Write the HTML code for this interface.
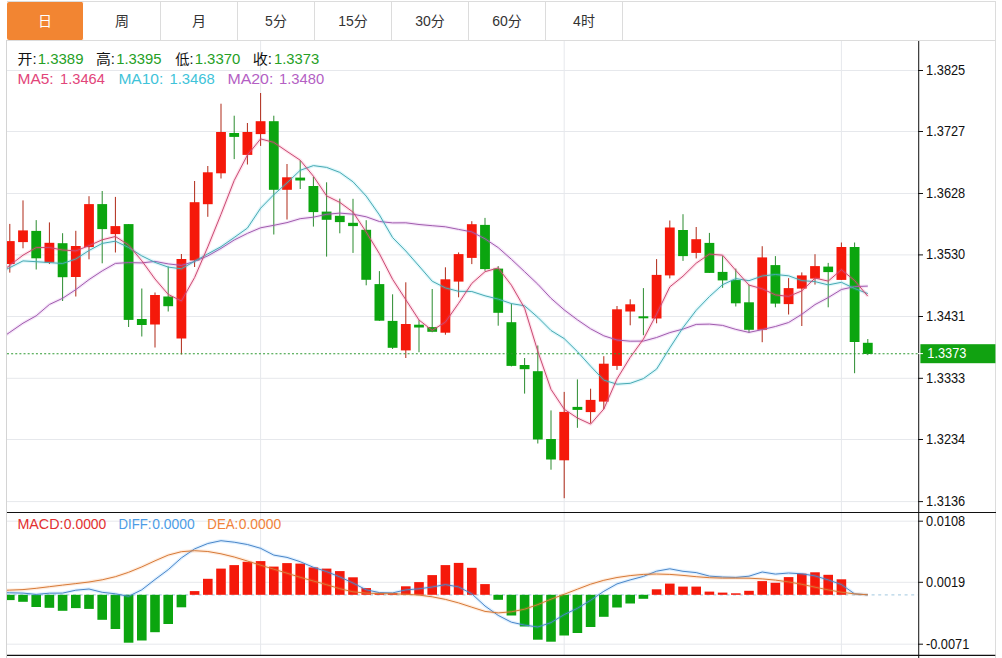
<!DOCTYPE html>
<html lang="zh-CN"><head><meta charset="utf-8"><title>K线图</title>
<style>
html,body{margin:0;padding:0;background:#fff;}
body{width:1002px;height:658px;position:relative;overflow:hidden;font-family:"Liberation Sans","Noto Sans CJK SC",sans-serif;}
.tabs{position:absolute;left:7px;top:1px;width:988px;height:38px;border-top:1px solid #dcdcdc;border-bottom:1px solid #dcdcdc;}
.tab{position:absolute;top:2px;width:76px;height:38px;line-height:38px;text-align:center;font-size:14px;color:#333;border-right:1px solid #dcdcdc;box-sizing:content-box;}
.tab.on{background:#f28532;color:#fff;border-right-color:#fff;border-radius:2px;}
.ax{font-family:"Liberation Sans",sans-serif;font-size:14px;fill:#111;}
</style></head><body>
<div class="tabs"></div>
<div class="tab on" style="left:7px">日</div><div class="tab" style="left:84px">周</div><div class="tab" style="left:161px">月</div><div class="tab" style="left:238px">5分</div><div class="tab" style="left:315px">15分</div><div class="tab" style="left:392px">30分</div><div class="tab" style="left:469px">60分</div><div class="tab" style="left:546px">4时</div>
<svg width="1002" height="658" viewBox="0 0 1002 658" style="position:absolute;left:0;top:0"><defs><clipPath id="cm"><rect x="7" y="41" width="911" height="471"/></clipPath><clipPath id="cd"><rect x="7" y="513" width="911" height="142"/></clipPath></defs><line x1="7" x2="918" y1="70.5" y2="70.5" stroke="#e6e8ec" stroke-width="1"/><line x1="7" x2="918" y1="131.5" y2="131.5" stroke="#e6e8ec" stroke-width="1"/><line x1="7" x2="918" y1="193.5" y2="193.5" stroke="#e6e8ec" stroke-width="1"/><line x1="7" x2="918" y1="254.9" y2="254.9" stroke="#e6e8ec" stroke-width="1"/><line x1="7" x2="918" y1="316.5" y2="316.5" stroke="#e6e8ec" stroke-width="1"/><line x1="7" x2="918" y1="378.3" y2="378.3" stroke="#e6e8ec" stroke-width="1"/><line x1="7" x2="918" y1="439.5" y2="439.5" stroke="#e6e8ec" stroke-width="1"/><line x1="7" x2="918" y1="501.6" y2="501.6" stroke="#e6e8ec" stroke-width="1"/><line x1="7" x2="918" y1="521.2" y2="521.2" stroke="#e6e8ec" stroke-width="1"/><line x1="7" x2="918" y1="582.3" y2="582.3" stroke="#e6e8ec" stroke-width="1"/><line x1="7" x2="918" y1="644.2" y2="644.2" stroke="#e6e8ec" stroke-width="1"/><line x1="260.6" x2="260.6" y1="41" y2="655" stroke="#e6e8ec" stroke-width="1"/><line x1="564.2" x2="564.2" y1="41" y2="655" stroke="#e6e8ec" stroke-width="1"/><line x1="841.4" x2="841.4" y1="41" y2="655" stroke="#e6e8ec" stroke-width="1"/><line x1="6.5" x2="6.5" y1="40" y2="658" stroke="#d4d4d4" stroke-width="1"/><line x1="995.5" x2="995.5" y1="1" y2="658" stroke="#dcdcdc" stroke-width="1"/><g clip-path="url(#cm)"><rect x="9.3" y="223.9" width="1" height="48.7" fill="#b02a18"/><rect x="4.9" y="241.1" width="9.8" height="22.9" fill="#f5190a"/><rect x="22.5" y="200.4" width="1" height="47.9" fill="#b02a18"/><rect x="18.1" y="230.4" width="9.8" height="11.7" fill="#f5190a"/><rect x="35.7" y="220.1" width="1" height="49.4" fill="#2c8c30"/><rect x="31.3" y="230.9" width="9.8" height="27.4" fill="#0ba50f"/><rect x="48.9" y="222.4" width="1" height="41.6" fill="#b02a18"/><rect x="44.5" y="242.8" width="9.8" height="19.7" fill="#f5190a"/><rect x="62.1" y="233.2" width="1" height="67.8" fill="#2c8c30"/><rect x="57.7" y="243.2" width="9.8" height="34.0" fill="#0ba50f"/><rect x="75.3" y="230.8" width="1" height="65.7" fill="#b02a18"/><rect x="70.9" y="246.0" width="9.8" height="31.0" fill="#f5190a"/><rect x="88.5" y="196.2" width="1" height="63.1" fill="#b02a18"/><rect x="84.1" y="204.1" width="9.8" height="43.0" fill="#f5190a"/><rect x="101.7" y="191.0" width="1" height="72.3" fill="#2c8c30"/><rect x="97.3" y="204.1" width="9.8" height="25.0" fill="#0ba50f"/><rect x="114.9" y="196.9" width="1" height="55.6" fill="#b02a18"/><rect x="110.5" y="226.1" width="9.8" height="8.0" fill="#f5190a"/><rect x="128.1" y="224.1" width="1" height="102.9" fill="#2c8c30"/><rect x="123.7" y="224.1" width="9.8" height="95.8" fill="#0ba50f"/><rect x="141.3" y="288.5" width="1" height="48.0" fill="#2c8c30"/><rect x="136.9" y="319.0" width="9.8" height="6.0" fill="#0ba50f"/><rect x="154.5" y="292.5" width="1" height="55.0" fill="#b02a18"/><rect x="150.1" y="295.0" width="9.8" height="29.5" fill="#f5190a"/><rect x="167.7" y="266.5" width="1" height="45.0" fill="#2c8c30"/><rect x="163.3" y="296.5" width="9.8" height="9.7" fill="#0ba50f"/><rect x="180.9" y="254.0" width="1" height="100.5" fill="#b02a18"/><rect x="176.5" y="259.0" width="9.8" height="79.5" fill="#f5190a"/><rect x="194.1" y="181.0" width="1" height="86.0" fill="#b02a18"/><rect x="189.7" y="202.2" width="9.8" height="58.3" fill="#f5190a"/><rect x="207.3" y="166.0" width="1" height="50.8" fill="#b02a18"/><rect x="202.9" y="172.3" width="9.8" height="31.9" fill="#f5190a"/><rect x="220.5" y="103.7" width="1" height="74.8" fill="#b02a18"/><rect x="216.1" y="132.0" width="9.8" height="41.3" fill="#f5190a"/><rect x="233.7" y="115.7" width="1" height="43.4" fill="#2c8c30"/><rect x="229.3" y="133.0" width="9.8" height="3.9" fill="#0ba50f"/><rect x="246.9" y="123.0" width="1" height="41.5" fill="#b02a18"/><rect x="242.5" y="132.0" width="9.8" height="22.9" fill="#f5190a"/><rect x="260.1" y="93.0" width="1" height="52.9" fill="#b02a18"/><rect x="255.7" y="121.2" width="9.8" height="12.9" fill="#f5190a"/><rect x="273.3" y="115.7" width="1" height="118.8" fill="#2c8c30"/><rect x="268.9" y="121.2" width="9.8" height="68.6" fill="#0ba50f"/><rect x="286.5" y="164.0" width="1" height="55.5" fill="#b02a18"/><rect x="282.1" y="177.3" width="9.8" height="12.5" fill="#f5190a"/><rect x="299.7" y="160.3" width="1" height="28.7" fill="#2c8c30"/><rect x="295.3" y="177.6" width="9.8" height="2.9" fill="#0ba50f"/><rect x="312.9" y="176.8" width="1" height="49.8" fill="#2c8c30"/><rect x="308.5" y="186.0" width="9.8" height="26.1" fill="#0ba50f"/><rect x="326.1" y="182.3" width="1" height="74.3" fill="#2c8c30"/><rect x="321.7" y="211.6" width="9.8" height="8.2" fill="#0ba50f"/><rect x="339.3" y="198.6" width="1" height="34.7" fill="#2c8c30"/><rect x="334.9" y="215.8" width="9.8" height="6.3" fill="#0ba50f"/><rect x="352.5" y="198.8" width="1" height="54.1" fill="#2c8c30"/><rect x="348.1" y="222.8" width="9.8" height="3.3" fill="#0ba50f"/><rect x="365.7" y="220.2" width="1" height="65.1" fill="#2c8c30"/><rect x="361.3" y="229.8" width="9.8" height="50.0" fill="#0ba50f"/><rect x="378.9" y="271.1" width="1" height="49.8" fill="#2c8c30"/><rect x="374.5" y="284.1" width="9.8" height="36.6" fill="#0ba50f"/><rect x="392.1" y="294.3" width="1" height="54.7" fill="#2c8c30"/><rect x="387.7" y="320.9" width="9.8" height="26.9" fill="#0ba50f"/><rect x="405.3" y="282.3" width="1" height="75.7" fill="#b02a18"/><rect x="400.9" y="324.0" width="9.8" height="26.4" fill="#f5190a"/><rect x="418.5" y="320.2" width="1" height="32.0" fill="#2c8c30"/><rect x="414.1" y="324.7" width="9.8" height="2.8" fill="#0ba50f"/><rect x="431.7" y="289.0" width="1" height="43.2" fill="#2c8c30"/><rect x="427.3" y="327.1" width="9.8" height="4.7" fill="#0ba50f"/><rect x="444.9" y="267.3" width="1" height="67.4" fill="#b02a18"/><rect x="440.5" y="279.3" width="9.8" height="53.4" fill="#f5190a"/><rect x="458.1" y="252.4" width="1" height="44.9" fill="#b02a18"/><rect x="453.7" y="254.1" width="9.8" height="27.5" fill="#f5190a"/><rect x="471.3" y="221.2" width="1" height="42.9" fill="#b02a18"/><rect x="466.9" y="224.2" width="9.8" height="33.7" fill="#f5190a"/><rect x="484.5" y="217.9" width="1" height="52.9" fill="#2c8c30"/><rect x="480.1" y="224.9" width="9.8" height="44.2" fill="#0ba50f"/><rect x="497.7" y="266.1" width="1" height="59.6" fill="#2c8c30"/><rect x="493.3" y="268.6" width="9.8" height="44.2" fill="#0ba50f"/><rect x="510.9" y="303.5" width="1" height="62.9" fill="#2c8c30"/><rect x="506.5" y="322.2" width="9.8" height="43.7" fill="#0ba50f"/><rect x="524.1" y="358.0" width="1" height="35.6" fill="#2c8c30"/><rect x="519.7" y="365.0" width="9.8" height="4.2" fill="#0ba50f"/><rect x="537.3" y="345.5" width="1" height="98.0" fill="#2c8c30"/><rect x="532.9" y="371.2" width="9.8" height="68.3" fill="#0ba50f"/><rect x="550.5" y="410.4" width="1" height="59.3" fill="#2c8c30"/><rect x="546.1" y="439.0" width="9.8" height="20.5" fill="#0ba50f"/><rect x="563.7" y="391.9" width="1" height="106.3" fill="#b02a18"/><rect x="559.3" y="411.9" width="9.8" height="48.4" fill="#f5190a"/><rect x="576.9" y="379.4" width="1" height="48.4" fill="#2c8c30"/><rect x="572.5" y="406.9" width="9.8" height="3.0" fill="#0ba50f"/><rect x="590.1" y="388.7" width="1" height="34.6" fill="#b02a18"/><rect x="585.7" y="399.9" width="9.8" height="12.2" fill="#f5190a"/><rect x="603.3" y="356.2" width="1" height="52.9" fill="#b02a18"/><rect x="598.9" y="363.7" width="9.8" height="37.9" fill="#f5190a"/><rect x="616.5" y="306.0" width="1" height="63.9" fill="#b02a18"/><rect x="612.1" y="309.3" width="9.8" height="56.6" fill="#f5190a"/><rect x="629.7" y="299.3" width="1" height="26.0" fill="#b02a18"/><rect x="625.3" y="304.3" width="9.8" height="7.2" fill="#f5190a"/><rect x="642.9" y="288.1" width="1" height="47.1" fill="#2c8c30"/><rect x="638.5" y="316.3" width="9.8" height="2.0" fill="#0ba50f"/><rect x="656.1" y="259.1" width="1" height="64.2" fill="#b02a18"/><rect x="651.7" y="274.9" width="9.8" height="43.6" fill="#f5190a"/><rect x="669.3" y="220.5" width="1" height="57.9" fill="#b02a18"/><rect x="664.9" y="227.5" width="9.8" height="47.9" fill="#f5190a"/><rect x="682.5" y="214.2" width="1" height="46.7" fill="#2c8c30"/><rect x="678.1" y="230.0" width="9.8" height="26.1" fill="#0ba50f"/><rect x="695.7" y="227.0" width="1" height="31.4" fill="#b02a18"/><rect x="691.3" y="239.2" width="9.8" height="13.7" fill="#f5190a"/><rect x="708.9" y="232.9" width="1" height="40.0" fill="#2c8c30"/><rect x="704.5" y="242.9" width="9.8" height="30.0" fill="#0ba50f"/><rect x="722.1" y="256.1" width="1" height="31.7" fill="#2c8c30"/><rect x="717.7" y="271.9" width="9.8" height="8.5" fill="#0ba50f"/><rect x="735.3" y="268.6" width="1" height="37.9" fill="#2c8c30"/><rect x="730.9" y="279.9" width="9.8" height="23.4" fill="#0ba50f"/><rect x="748.5" y="284.8" width="1" height="47.9" fill="#2c8c30"/><rect x="744.1" y="302.3" width="9.8" height="27.5" fill="#0ba50f"/><rect x="761.7" y="246.2" width="1" height="96.0" fill="#b02a18"/><rect x="757.3" y="257.4" width="9.8" height="72.4" fill="#f5190a"/><rect x="774.9" y="256.1" width="1" height="51.2" fill="#2c8c30"/><rect x="770.5" y="265.1" width="9.8" height="38.5" fill="#0ba50f"/><rect x="788.1" y="278.1" width="1" height="36.4" fill="#b02a18"/><rect x="783.7" y="288.1" width="9.8" height="16.0" fill="#f5190a"/><rect x="801.3" y="272.4" width="1" height="53.6" fill="#b02a18"/><rect x="796.9" y="275.4" width="9.8" height="13.2" fill="#f5190a"/><rect x="814.5" y="254.2" width="1" height="30.4" fill="#b02a18"/><rect x="810.1" y="266.1" width="9.8" height="12.5" fill="#f5190a"/><rect x="827.7" y="262.9" width="1" height="44.4" fill="#2c8c30"/><rect x="823.3" y="266.6" width="9.8" height="5.5" fill="#0ba50f"/><rect x="840.9" y="242.5" width="1" height="37.4" fill="#b02a18"/><rect x="836.5" y="247.0" width="9.8" height="32.9" fill="#f5190a"/><rect x="854.1" y="242.5" width="1" height="130.7" fill="#2c8c30"/><rect x="849.7" y="247.0" width="9.8" height="95.0" fill="#0ba50f"/><rect x="867.3" y="339.0" width="1" height="16.1" fill="#2c8c30"/><rect x="862.9" y="342.8" width="9.8" height="11.2" fill="#0ba50f"/><polyline fill="none" stroke="#c060d8" stroke-opacity="0.16" stroke-width="3.4" stroke-linejoin="round" points="-3.4,341.4 9.8,332.3 23.0,323.2 36.2,315.8 49.4,304.5 62.6,298.3 75.8,289.6 89.0,279.6 102.2,270.9 115.4,263.4 128.6,262.6 141.8,262.9 155.0,261.4 168.2,263.9 181.4,265.4 194.6,261.4 207.8,255.9 221.0,248.4 234.2,240.0 247.4,233.4 260.6,227.8 273.8,225.3 287.0,222.6 300.2,218.7 313.4,217.2 326.6,214.3 339.8,213.1 353.0,214.2 366.2,216.8 379.4,221.5 392.6,222.9 405.8,222.8 419.0,224.5 432.2,225.7 445.4,226.8 458.6,229.4 471.8,231.9 485.0,238.8 498.2,247.6 511.4,259.3 524.6,271.7 537.8,284.2 551.0,298.3 564.2,309.9 577.4,319.8 590.6,328.8 603.8,335.8 617.0,340.0 630.2,341.2 643.4,341.1 656.6,337.5 669.8,332.6 683.0,329.1 696.2,324.4 709.4,324.1 722.6,325.4 735.8,329.4 749.0,332.4 762.2,329.6 775.4,326.5 788.6,322.5 801.8,314.3 815.0,304.6 828.2,297.6 841.4,289.5 854.6,286.6 867.8,286.1"/><polyline fill="none" stroke="#a05cad" stroke-width="1.0" stroke-linejoin="round" points="-3.4,341.4 9.8,332.3 23.0,323.2 36.2,315.8 49.4,304.5 62.6,298.3 75.8,289.6 89.0,279.6 102.2,270.9 115.4,263.4 128.6,262.6 141.8,262.9 155.0,261.4 168.2,263.9 181.4,265.4 194.6,261.4 207.8,255.9 221.0,248.4 234.2,240.0 247.4,233.4 260.6,227.8 273.8,225.3 287.0,222.6 300.2,218.7 313.4,217.2 326.6,214.3 339.8,213.1 353.0,214.2 366.2,216.8 379.4,221.5 392.6,222.9 405.8,222.8 419.0,224.5 432.2,225.7 445.4,226.8 458.6,229.4 471.8,231.9 485.0,238.8 498.2,247.6 511.4,259.3 524.6,271.7 537.8,284.2 551.0,298.3 564.2,309.9 577.4,319.8 590.6,328.8 603.8,335.8 617.0,340.0 630.2,341.2 643.4,341.1 656.6,337.5 669.8,332.6 683.0,329.1 696.2,324.4 709.4,324.1 722.6,325.4 735.8,329.4 749.0,332.4 762.2,329.6 775.4,326.5 788.6,322.5 801.8,314.3 815.0,304.6 828.2,297.6 841.4,289.5 854.6,286.6 867.8,286.1"/><polyline fill="none" stroke="#30d0e8" stroke-opacity="0.16" stroke-width="3.4" stroke-linejoin="round" points="-3.4,274.3 9.8,267.6 23.0,260.9 36.2,261.7 49.4,262.6 62.6,263.5 75.8,259.0 89.0,250.5 102.2,243.4 115.4,241.2 128.6,247.5 141.8,255.9 155.0,262.4 168.2,267.1 181.4,268.8 194.6,261.3 207.8,253.9 221.0,246.7 234.2,237.5 247.4,228.1 260.6,208.2 273.8,194.7 287.0,182.9 300.2,170.3 313.4,165.6 326.6,167.4 339.8,172.4 353.0,181.8 366.2,196.1 379.4,214.9 392.6,237.6 405.8,251.0 419.0,266.0 432.2,281.2 445.4,287.9 458.6,291.3 471.8,291.5 485.0,295.8 498.2,299.1 511.4,303.6 524.6,305.8 537.8,317.3 551.0,330.5 564.2,338.6 577.4,351.6 590.6,366.2 603.8,380.1 617.0,384.2 630.2,383.3 643.4,378.6 656.6,369.1 669.8,347.9 683.0,327.6 696.2,310.3 709.4,296.6 722.6,284.7 735.8,278.6 749.0,280.7 762.2,276.0 775.4,274.5 788.6,275.8 801.8,280.6 815.0,281.6 828.2,284.9 841.4,282.3 854.6,288.5 867.8,293.6"/><polyline fill="none" stroke="#48a9b2" stroke-width="1.0" stroke-linejoin="round" points="-3.4,274.3 9.8,267.6 23.0,260.9 36.2,261.7 49.4,262.6 62.6,263.5 75.8,259.0 89.0,250.5 102.2,243.4 115.4,241.2 128.6,247.5 141.8,255.9 155.0,262.4 168.2,267.1 181.4,268.8 194.6,261.3 207.8,253.9 221.0,246.7 234.2,237.5 247.4,228.1 260.6,208.2 273.8,194.7 287.0,182.9 300.2,170.3 313.4,165.6 326.6,167.4 339.8,172.4 353.0,181.8 366.2,196.1 379.4,214.9 392.6,237.6 405.8,251.0 419.0,266.0 432.2,281.2 445.4,287.9 458.6,291.3 471.8,291.5 485.0,295.8 498.2,299.1 511.4,303.6 524.6,305.8 537.8,317.3 551.0,330.5 564.2,338.6 577.4,351.6 590.6,366.2 603.8,380.1 617.0,384.2 630.2,383.3 643.4,378.6 656.6,369.1 669.8,347.9 683.0,327.6 696.2,310.3 709.4,296.6 722.6,284.7 735.8,278.6 749.0,280.7 762.2,276.0 775.4,274.5 788.6,275.8 801.8,280.6 815.0,281.6 828.2,284.9 841.4,282.3 854.6,288.5 867.8,293.6"/><polyline fill="none" stroke="#ff4a8a" stroke-opacity="0.16" stroke-width="3.4" stroke-linejoin="round" points="-3.4,275.4 9.8,265.3 23.0,255.2 36.2,247.6 49.4,247.5 62.6,250.0 75.8,250.9 89.0,245.7 102.2,239.8 115.4,236.5 128.6,245.0 141.8,260.8 155.0,279.0 168.2,294.4 181.4,301.0 194.6,277.5 207.8,246.9 221.0,214.3 234.2,180.5 247.4,155.1 260.6,138.9 273.8,142.4 287.0,151.4 300.2,160.2 313.4,176.2 326.6,195.9 339.8,202.4 353.0,212.1 366.2,232.0 379.4,253.7 392.6,279.3 405.8,299.7 419.0,320.0 432.2,330.4 445.4,322.1 458.6,303.3 471.8,283.4 485.0,271.7 498.2,267.9 511.4,285.2 524.6,308.2 537.8,351.3 551.0,389.4 564.2,409.2 577.4,418.0 590.6,424.1 603.8,409.0 617.0,378.9 630.2,357.4 643.4,339.1 656.6,314.1 669.8,286.9 683.0,276.2 696.2,263.2 709.4,254.1 722.6,255.2 735.8,270.4 749.0,285.1 762.2,288.8 775.4,294.9 788.6,296.4 801.8,290.9 815.0,278.1 828.2,281.1 841.4,269.7 854.6,280.5 867.8,296.2"/><polyline fill="none" stroke="#c84a72" stroke-width="1.0" stroke-linejoin="round" points="-3.4,275.4 9.8,265.3 23.0,255.2 36.2,247.6 49.4,247.5 62.6,250.0 75.8,250.9 89.0,245.7 102.2,239.8 115.4,236.5 128.6,245.0 141.8,260.8 155.0,279.0 168.2,294.4 181.4,301.0 194.6,277.5 207.8,246.9 221.0,214.3 234.2,180.5 247.4,155.1 260.6,138.9 273.8,142.4 287.0,151.4 300.2,160.2 313.4,176.2 326.6,195.9 339.8,202.4 353.0,212.1 366.2,232.0 379.4,253.7 392.6,279.3 405.8,299.7 419.0,320.0 432.2,330.4 445.4,322.1 458.6,303.3 471.8,283.4 485.0,271.7 498.2,267.9 511.4,285.2 524.6,308.2 537.8,351.3 551.0,389.4 564.2,409.2 577.4,418.0 590.6,424.1 603.8,409.0 617.0,378.9 630.2,357.4 643.4,339.1 656.6,314.1 669.8,286.9 683.0,276.2 696.2,263.2 709.4,254.1 722.6,255.2 735.8,270.4 749.0,285.1 762.2,288.8 775.4,294.9 788.6,296.4 801.8,290.9 815.0,278.1 828.2,281.1 841.4,269.7 854.6,280.5 867.8,296.2"/></g><line x1="7" x2="918" y1="353.8" y2="353.8" stroke="#2f9a33" stroke-width="1.1" stroke-dasharray="2,2.13"/><g clip-path="url(#cd)"><line x1="7" x2="918" y1="594.8" y2="594.8" stroke="#b4d3e6" stroke-width="1.2" stroke-dasharray="3,3.6"/><rect x="5.0" y="594.8" width="9.6" height="5.3" fill="#0ba50f"/><rect x="18.2" y="594.8" width="9.6" height="7.0" fill="#0ba50f"/><rect x="31.4" y="594.8" width="9.6" height="12.2" fill="#0ba50f"/><rect x="44.6" y="594.8" width="9.6" height="13.0" fill="#0ba50f"/><rect x="57.8" y="594.8" width="9.6" height="16.0" fill="#0ba50f"/><rect x="71.0" y="594.8" width="9.6" height="13.3" fill="#0ba50f"/><rect x="84.2" y="594.8" width="9.6" height="14.1" fill="#0ba50f"/><rect x="97.4" y="594.8" width="9.6" height="25.0" fill="#0ba50f"/><rect x="110.6" y="594.8" width="9.6" height="34.2" fill="#0ba50f"/><rect x="123.8" y="594.8" width="9.6" height="47.9" fill="#0ba50f"/><rect x="137.0" y="594.8" width="9.6" height="45.7" fill="#0ba50f"/><rect x="150.2" y="594.8" width="9.6" height="37.4" fill="#0ba50f"/><rect x="163.4" y="594.8" width="9.6" height="29.2" fill="#0ba50f"/><rect x="176.6" y="594.8" width="9.6" height="12.5" fill="#0ba50f"/><rect x="189.8" y="591.1" width="9.6" height="3.7" fill="#f5190a"/><rect x="203.0" y="578.8" width="9.6" height="16.0" fill="#f5190a"/><rect x="216.2" y="568.6" width="9.6" height="26.2" fill="#f5190a"/><rect x="229.4" y="565.1" width="9.6" height="29.7" fill="#f5190a"/><rect x="242.6" y="561.8" width="9.6" height="33.0" fill="#f5190a"/><rect x="255.8" y="561.1" width="9.6" height="33.7" fill="#f5190a"/><rect x="269.0" y="566.6" width="9.6" height="28.2" fill="#f5190a"/><rect x="282.2" y="563.1" width="9.6" height="31.7" fill="#f5190a"/><rect x="295.4" y="563.6" width="9.6" height="31.2" fill="#f5190a"/><rect x="308.6" y="567.4" width="9.6" height="27.4" fill="#f5190a"/><rect x="321.8" y="568.6" width="9.6" height="26.2" fill="#f5190a"/><rect x="335.0" y="571.1" width="9.6" height="23.7" fill="#f5190a"/><rect x="348.2" y="577.3" width="9.6" height="17.5" fill="#f5190a"/><rect x="361.4" y="588.1" width="9.6" height="6.7" fill="#f5190a"/><rect x="374.6" y="592.8" width="9.6" height="2.0" fill="#f5190a"/><rect x="387.8" y="593.1" width="9.6" height="1.7" fill="#f5190a"/><rect x="401.0" y="586.3" width="9.6" height="8.5" fill="#f5190a"/><rect x="414.2" y="582.1" width="9.6" height="12.7" fill="#f5190a"/><rect x="427.4" y="575.1" width="9.6" height="19.7" fill="#f5190a"/><rect x="440.6" y="565.1" width="9.6" height="29.7" fill="#f5190a"/><rect x="453.8" y="562.9" width="9.6" height="31.9" fill="#f5190a"/><rect x="467.0" y="567.8" width="9.6" height="27.0" fill="#f5190a"/><rect x="480.2" y="584.1" width="9.6" height="10.7" fill="#f5190a"/><rect x="493.4" y="594.8" width="9.6" height="5.0" fill="#0ba50f"/><rect x="506.6" y="594.8" width="9.6" height="20.7" fill="#0ba50f"/><rect x="519.8" y="594.8" width="9.6" height="31.7" fill="#0ba50f"/><rect x="533.0" y="594.8" width="9.6" height="44.9" fill="#0ba50f"/><rect x="546.2" y="594.8" width="9.6" height="46.9" fill="#0ba50f"/><rect x="559.4" y="594.8" width="9.6" height="40.7" fill="#0ba50f"/><rect x="572.6" y="594.8" width="9.6" height="38.2" fill="#0ba50f"/><rect x="585.8" y="594.8" width="9.6" height="32.2" fill="#0ba50f"/><rect x="599.0" y="594.8" width="9.6" height="22.0" fill="#0ba50f"/><rect x="612.2" y="594.8" width="9.6" height="12.7" fill="#0ba50f"/><rect x="625.4" y="594.8" width="9.6" height="8.7" fill="#0ba50f"/><rect x="638.6" y="594.8" width="9.6" height="4.0" fill="#0ba50f"/><rect x="651.8" y="589.3" width="9.6" height="5.5" fill="#f5190a"/><rect x="665.0" y="583.6" width="9.6" height="11.2" fill="#f5190a"/><rect x="678.2" y="586.6" width="9.6" height="8.2" fill="#f5190a"/><rect x="691.4" y="586.6" width="9.6" height="8.2" fill="#f5190a"/><rect x="704.6" y="591.6" width="9.6" height="3.2" fill="#f5190a"/><rect x="717.8" y="592.6" width="9.6" height="2.2" fill="#f5190a"/><rect x="731.0" y="593.3" width="9.6" height="1.5" fill="#f5190a"/><rect x="744.2" y="590.8" width="9.6" height="4.0" fill="#f5190a"/><rect x="757.4" y="581.1" width="9.6" height="13.7" fill="#f5190a"/><rect x="770.6" y="582.8" width="9.6" height="12.0" fill="#f5190a"/><rect x="783.8" y="577.1" width="9.6" height="17.7" fill="#f5190a"/><rect x="797.0" y="573.6" width="9.6" height="21.2" fill="#f5190a"/><rect x="810.2" y="572.3" width="9.6" height="22.5" fill="#f5190a"/><rect x="823.4" y="574.8" width="9.6" height="20.0" fill="#f5190a"/><rect x="836.6" y="579.3" width="9.6" height="15.5" fill="#f5190a"/><polyline fill="none" stroke="#40a0ff" stroke-opacity="0.16" stroke-width="3.4" stroke-linejoin="round" points="-3.4,592.5 9.8,592.8 23.0,593.1 36.2,594.4 49.4,593.2 62.6,593.1 75.8,590.2 89.0,589.0 102.2,592.3 115.4,593.8 128.6,596.3 141.8,589.8 155.0,579.5 168.2,569.7 181.4,557.9 194.6,548.9 207.8,543.5 221.0,540.7 234.2,542.2 247.4,544.5 260.6,548.3 273.8,555.1 287.0,557.4 300.2,561.7 313.4,567.3 326.6,571.6 339.8,576.9 353.0,583.0 366.2,589.8 379.4,592.6 392.6,592.9 405.8,589.9 419.0,588.8 432.2,587.0 445.4,584.6 458.6,586.9 471.8,593.8 485.0,606.0 498.2,615.4 511.4,622.2 524.6,625.1 537.8,627.0 551.0,622.6 564.2,614.6 577.4,608.3 590.6,600.3 603.8,591.3 617.0,583.9 630.2,579.9 643.4,576.4 656.6,571.2 669.8,568.8 683.0,571.3 696.2,572.6 709.4,576.1 722.6,577.0 735.8,577.4 749.0,576.2 762.2,572.0 775.4,574.1 788.6,573.0 801.8,573.8 815.0,575.9 828.2,579.9 841.4,584.5 854.6,593.9 867.8,594.8"/><polyline fill="none" stroke="#4a86c8" stroke-width="1.0" stroke-linejoin="round" points="-3.4,592.5 9.8,592.8 23.0,593.1 36.2,594.4 49.4,593.2 62.6,593.1 75.8,590.2 89.0,589.0 102.2,592.3 115.4,593.8 128.6,596.3 141.8,589.8 155.0,579.5 168.2,569.7 181.4,557.9 194.6,548.9 207.8,543.5 221.0,540.7 234.2,542.2 247.4,544.5 260.6,548.3 273.8,555.1 287.0,557.4 300.2,561.7 313.4,567.3 326.6,571.6 339.8,576.9 353.0,583.0 366.2,589.8 379.4,592.6 392.6,592.9 405.8,589.9 419.0,588.8 432.2,587.0 445.4,584.6 458.6,586.9 471.8,593.8 485.0,606.0 498.2,615.4 511.4,622.2 524.6,625.1 537.8,627.0 551.0,622.6 564.2,614.6 577.4,608.3 590.6,600.3 603.8,591.3 617.0,583.9 630.2,579.9 643.4,576.4 656.6,571.2 669.8,568.8 683.0,571.3 696.2,572.6 709.4,576.1 722.6,577.0 735.8,577.4 749.0,576.2 762.2,572.0 775.4,574.1 788.6,573.0 801.8,573.8 815.0,575.9 828.2,579.9 841.4,584.5 854.6,593.9 867.8,594.8"/><polyline fill="none" stroke="#ff8a30" stroke-opacity="0.16" stroke-width="3.4" stroke-linejoin="round" points="-3.4,590.7 9.8,590.1 23.0,589.6 36.2,588.3 49.4,586.7 62.6,585.1 75.8,583.6 89.0,582.0 102.2,579.8 115.4,576.7 128.6,572.3 141.8,566.9 155.0,560.8 168.2,555.1 181.4,551.7 194.6,550.7 207.8,551.5 221.0,553.8 234.2,557.0 247.4,561.0 260.6,565.2 273.8,569.2 287.0,573.2 300.2,577.3 313.4,581.0 326.6,584.7 339.8,588.7 353.0,591.8 366.2,593.1 379.4,593.6 392.6,593.8 405.8,594.2 419.0,595.1 432.2,596.8 445.4,599.4 458.6,602.9 471.8,607.2 485.0,611.4 498.2,612.9 511.4,611.8 524.6,609.2 537.8,604.6 551.0,599.2 564.2,594.3 577.4,589.2 590.6,584.2 603.8,580.3 617.0,577.5 630.2,575.6 643.4,574.4 656.6,574.0 669.8,574.4 683.0,575.4 696.2,576.7 709.4,577.7 722.6,578.1 735.8,578.1 749.0,578.2 762.2,578.9 775.4,580.1 788.6,581.9 801.8,584.3 815.0,587.2 828.2,589.9 841.4,592.2 854.6,593.9 867.8,594.8"/><polyline fill="none" stroke="#d67a38" stroke-width="1.0" stroke-linejoin="round" points="-3.4,590.7 9.8,590.1 23.0,589.6 36.2,588.3 49.4,586.7 62.6,585.1 75.8,583.6 89.0,582.0 102.2,579.8 115.4,576.7 128.6,572.3 141.8,566.9 155.0,560.8 168.2,555.1 181.4,551.7 194.6,550.7 207.8,551.5 221.0,553.8 234.2,557.0 247.4,561.0 260.6,565.2 273.8,569.2 287.0,573.2 300.2,577.3 313.4,581.0 326.6,584.7 339.8,588.7 353.0,591.8 366.2,593.1 379.4,593.6 392.6,593.8 405.8,594.2 419.0,595.1 432.2,596.8 445.4,599.4 458.6,602.9 471.8,607.2 485.0,611.4 498.2,612.9 511.4,611.8 524.6,609.2 537.8,604.6 551.0,599.2 564.2,594.3 577.4,589.2 590.6,584.2 603.8,580.3 617.0,577.5 630.2,575.6 643.4,574.4 656.6,574.0 669.8,574.4 683.0,575.4 696.2,576.7 709.4,577.7 722.6,578.1 735.8,578.1 749.0,578.2 762.2,578.9 775.4,580.1 788.6,581.9 801.8,584.3 815.0,587.2 828.2,589.9 841.4,592.2 854.6,593.9 867.8,594.8"/></g><line x1="918.7" x2="918.7" y1="41" y2="658" stroke="#1a1a1a" stroke-width="1.05"/><line x1="7" x2="996" y1="512.5" y2="512.5" stroke="#111" stroke-width="1.2"/><line x1="7" x2="995.3" y1="655.4" y2="655.4" stroke="#111" stroke-width="1.2"/><line x1="918" x2="923" y1="70.5" y2="70.5" stroke="#111" stroke-width="1"/><text x="926.1" y="74.8" class="ax" textLength="39.15" lengthAdjust="spacingAndGlyphs">1.3825</text><line x1="918" x2="923" y1="131.5" y2="131.5" stroke="#111" stroke-width="1"/><text x="926.1" y="135.8" class="ax" textLength="39.15" lengthAdjust="spacingAndGlyphs">1.3727</text><line x1="918" x2="923" y1="193.5" y2="193.5" stroke="#111" stroke-width="1"/><text x="926.1" y="197.8" class="ax" textLength="39.15" lengthAdjust="spacingAndGlyphs">1.3628</text><line x1="918" x2="923" y1="254.9" y2="254.9" stroke="#111" stroke-width="1"/><text x="926.1" y="259.2" class="ax" textLength="39.15" lengthAdjust="spacingAndGlyphs">1.3530</text><line x1="918" x2="923" y1="316.5" y2="316.5" stroke="#111" stroke-width="1"/><text x="926.1" y="320.8" class="ax" textLength="39.15" lengthAdjust="spacingAndGlyphs">1.3431</text><line x1="918" x2="923" y1="378.3" y2="378.3" stroke="#111" stroke-width="1"/><text x="926.1" y="382.6" class="ax" textLength="39.15" lengthAdjust="spacingAndGlyphs">1.3333</text><line x1="918" x2="923" y1="439.5" y2="439.5" stroke="#111" stroke-width="1"/><text x="926.1" y="443.8" class="ax" textLength="39.15" lengthAdjust="spacingAndGlyphs">1.3234</text><line x1="918" x2="923" y1="501.6" y2="501.6" stroke="#111" stroke-width="1"/><text x="926.1" y="505.9" class="ax" textLength="39.15" lengthAdjust="spacingAndGlyphs">1.3136</text><line x1="918" x2="923" y1="521.2" y2="521.2" stroke="#111" stroke-width="1"/><text x="926.1" y="525.5" class="ax" textLength="39.15" lengthAdjust="spacingAndGlyphs">0.0108</text><line x1="918" x2="923" y1="582.3" y2="582.3" stroke="#111" stroke-width="1"/><text x="926.1" y="586.6" class="ax" textLength="39.15" lengthAdjust="spacingAndGlyphs">0.0019</text><line x1="918" x2="923" y1="644.2" y2="644.2" stroke="#111" stroke-width="1"/><text x="925.9" y="648.5" class="ax" textLength="43.41" lengthAdjust="spacingAndGlyphs">-0.0071</text><rect x="920.4" y="344.2" width="75" height="19" fill="#11a211"/><line x1="918" x2="923" y1="353.6" y2="353.6" stroke="#fff" stroke-width="1"/><text x="927.3" y="357.9" class="ax" textLength="39.15" lengthAdjust="spacingAndGlyphs" style="fill:#fff">1.3373</text></svg>
<svg width="1002" height="658" style="position:absolute;left:0;top:0" font-family="Liberation Sans, Noto Sans CJK SC, sans-serif"><text x="17.50" y="63.6" textLength="19.07" lengthAdjust="spacingAndGlyphs" font-size="14" fill="#111">开:</text><text x="37.75" y="63.6" textLength="45.76" lengthAdjust="spacingAndGlyphs" font-size="15.4" fill="#25a025">1.3389</text><text x="95.95" y="63.6" textLength="18.97" lengthAdjust="spacingAndGlyphs" font-size="14" fill="#111">高:</text><text x="116.25" y="63.6" textLength="45.30" lengthAdjust="spacingAndGlyphs" font-size="15.4" fill="#25a025">1.3395</text><text x="175.30" y="63.6" textLength="18.20" lengthAdjust="spacingAndGlyphs" font-size="14" fill="#111">低:</text><text x="194.70" y="63.6" textLength="45.57" lengthAdjust="spacingAndGlyphs" font-size="15.4" fill="#25a025">1.3370</text><text x="252.75" y="63.6" textLength="19.27" lengthAdjust="spacingAndGlyphs" font-size="14" fill="#111">收:</text><text x="273.95" y="63.6" textLength="45.20" lengthAdjust="spacingAndGlyphs" font-size="15.4" fill="#25a025">1.3373</text><text x="17.50" y="83.7" textLength="36.18" lengthAdjust="spacingAndGlyphs" font-size="15.4" fill="#e2457a">MA5:</text><text x="60.10" y="83.7" textLength="44.80" lengthAdjust="spacingAndGlyphs" font-size="15.4" fill="#e2457a">1.3464</text><text x="118.40" y="83.7" textLength="44.96" lengthAdjust="spacingAndGlyphs" font-size="15.4" fill="#3fc3d9">MA10:</text><text x="169.45" y="83.7" textLength="45.40" lengthAdjust="spacingAndGlyphs" font-size="15.4" fill="#3fc3d9">1.3468</text><text x="227.40" y="83.7" textLength="45.97" lengthAdjust="spacingAndGlyphs" font-size="15.4" fill="#b45fc4">MA20:</text><text x="279.05" y="83.7" textLength="45.20" lengthAdjust="spacingAndGlyphs" font-size="15.4" fill="#b45fc4">1.3480</text><text x="17.40" y="529.0" textLength="46.09" lengthAdjust="spacingAndGlyphs" font-size="13.8" fill="#e23030">MACD:</text><text x="63.85" y="529.0" textLength="42.43" lengthAdjust="spacingAndGlyphs" font-size="13.8" fill="#e23030">0.0000</text><text x="118.60" y="529.0" textLength="32.91" lengthAdjust="spacingAndGlyphs" font-size="13.8" fill="#4c9ce6">DIFF:</text><text x="152.25" y="529.0" textLength="42.39" lengthAdjust="spacingAndGlyphs" font-size="13.8" fill="#4c9ce6">0.0000</text><text x="207.35" y="529.0" textLength="30.95" lengthAdjust="spacingAndGlyphs" font-size="13.8" fill="#f0823a">DEA:</text><text x="238.75" y="529.0" textLength="42.39" lengthAdjust="spacingAndGlyphs" font-size="13.8" fill="#f0823a">0.0000</text></svg>
</body></html>
